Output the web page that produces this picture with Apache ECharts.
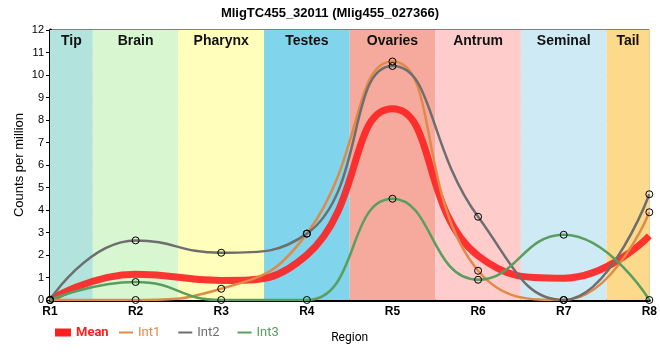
<!DOCTYPE html>
<html><head><meta charset="utf-8">
<script src="https://cdn.jsdelivr.net/npm/echarts@6/dist/echarts.min.js"></script>
<style>html,body{margin:0;padding:0;background:#fff}#c{width:660px;height:360px}</style>
</head><body><div id="c"></div>
<script>
const categories = ['R1','R2','R3','R4','R5','R6','R7','R8'];
const meanVals = [0, 1.15, 0.87, 2.0, 8.5, 1.97, 0.97, 2.85];
const int1Vals = [0, 0, 0.5, 2.95, 10.6, 1.3, 0, 3.9];
const int2Vals = [0, 2.65, 2.1, 2.95, 10.4, 3.7, 0, 4.7];
const int3Vals = [0, 0.8, 0, 0, 4.5, 0.9, 2.9, 0];
const regionNames = ['Tip','Brain','Pharynx','Testes','Ovaries','Antrum','Seminal','Tail'];
const regionStart = [0, 0.5, 1.5, 2.5, 3.5, 4.5, 5.5, 6.5];
const regionEnd = [0.5, 1.5, 2.5, 3.5, 4.5, 5.5, 6.5, 7];
const regionColors = ['#b3e3dd','#d8f6d0','#ffffbb','#80d4eb','#f5aa9d','#ffcccc','#cdeaf5','#fdd98b'];
const yTicks = [0,1,2,3,4,5,6,7,8,9,10,11,12];

const colMean = '#ff2020', colI1 = '#e08a48', colI2 = '#6e6e6e', colI3 = '#5a9e5f';
const toXY = arr => arr.map((v, i) => [i, v]);
const marker = {color: 'rgba(0,0,0,0)', borderColor: '#000', borderWidth: 1};
const legIcon = c => ({color: c, borderColor: c, borderWidth: 0});

const chart = echarts.init(document.getElementById('c'));
chart.setOption({
  animation: false,
  title: {text: 'MligTC455_32011 (Mlig455_027366)', left: 'center', top: 2,
    textStyle: {fontSize: 13, fontWeight: 'bold', color: '#000', fontFamily: 'Liberation Sans'}},
  grid: {left: 50, right: 10, top: 30, bottom: 60, show: true, borderColor: '#000', borderWidth: 1, backgroundColor: 'transparent'},
  legend: [
    {left: 50, top: 321, icon: 'rect', itemWidth: 16, itemHeight: 8,
     textStyle: {fontSize: 13, fontFamily: 'Roboto', fontWeight: 'bold'},
     data: [{name: 'Mean', itemStyle: legIcon(colMean), textStyle: {color: colMean}}]},
    {left: 114, top: 321, icon: 'rect', itemWidth: 14, itemHeight: 2, itemGap: 18,
     textStyle: {fontSize: 13, fontFamily: 'Roboto'},
     data: [
      {name: 'Int1', itemStyle: legIcon(colI1), textStyle: {color: colI1}},
      {name: 'Int2', itemStyle: legIcon(colI2), textStyle: {color: colI2}},
      {name: 'Int3', itemStyle: legIcon(colI3), textStyle: {color: colI3}}]}
  ],
  xAxis: {type: 'value', min: 0, max: 7, interval: 1,
    name: 'Region', nameLocation: 'middle', nameGap: 32,
    nameTextStyle: {fontSize: 12, color: '#000', fontFamily: 'Roboto'},
    axisLine: {lineStyle: {color: '#000', width: 3}},
    axisTick: {show: false},
    axisLabel: {formatter: v => categories[v] || '', color: '#000', fontWeight: 'bold', fontSize: 12, margin: 6},
    splitLine: {show: true, lineStyle: {color: '#c8c8c8', width: 1}}},
  yAxis: {type: 'value', min: 0, max: 12, interval: 1,
    name: 'Counts per million', nameLocation: 'middle', nameGap: 24, nameMoveOverlap: false,
    nameTextStyle: {fontSize: 13, color: '#000', fontFamily: 'Liberation Sans'},
    axisLine: {show: true, lineStyle: {color: '#000', width: 3}},
    axisTick: {show: true, length: 4, lineStyle: {color: '#000'}},
    axisLabel: {formatter: v => yTicks.includes(v) ? String(v) : '', color: '#000', fontSize: 11, margin: 6},
    splitLine: {show: true, lineStyle: {color: '#c8c8c8', width: 1}}},
  series: [
    {type: 'line', name: 'bands', data: [], z: -1, silent: true,
     markArea: {silent: true,
       label: {position: 'insideTop', distance: 4, fontSize: 14, fontWeight: 'bold', color: '#111', fontFamily: 'Liberation Sans'},
       data: regionNames.map((n, i) => [
         {name: n, xAxis: regionStart[i], itemStyle: {color: regionColors[i], opacity: 1}},
         {xAxis: regionEnd[i]}])}},
    {type: 'line', name: 'Mean', data: toXY(meanVals), smooth: true, showSymbol: false,
     lineStyle: {color: colMean, width: 7, opacity: 0.9}, itemStyle: {color: colMean}},
    {type: 'line', name: 'Int1', data: toXY(int1Vals), smooth: true, symbol: 'circle', symbolSize: 7,
     lineStyle: {color: colI1, width: 2.5}, itemStyle: marker},
    {type: 'line', name: 'Int2', data: toXY(int2Vals), smooth: true, symbol: 'circle', symbolSize: 7,
     lineStyle: {color: colI2, width: 2.5}, itemStyle: marker},
    {type: 'line', name: 'Int3', data: toXY(int3Vals), smooth: true, symbol: 'circle', symbolSize: 7,
     lineStyle: {color: colI3, width: 2.5}, itemStyle: marker}
  ]
});
</script></body></html>
